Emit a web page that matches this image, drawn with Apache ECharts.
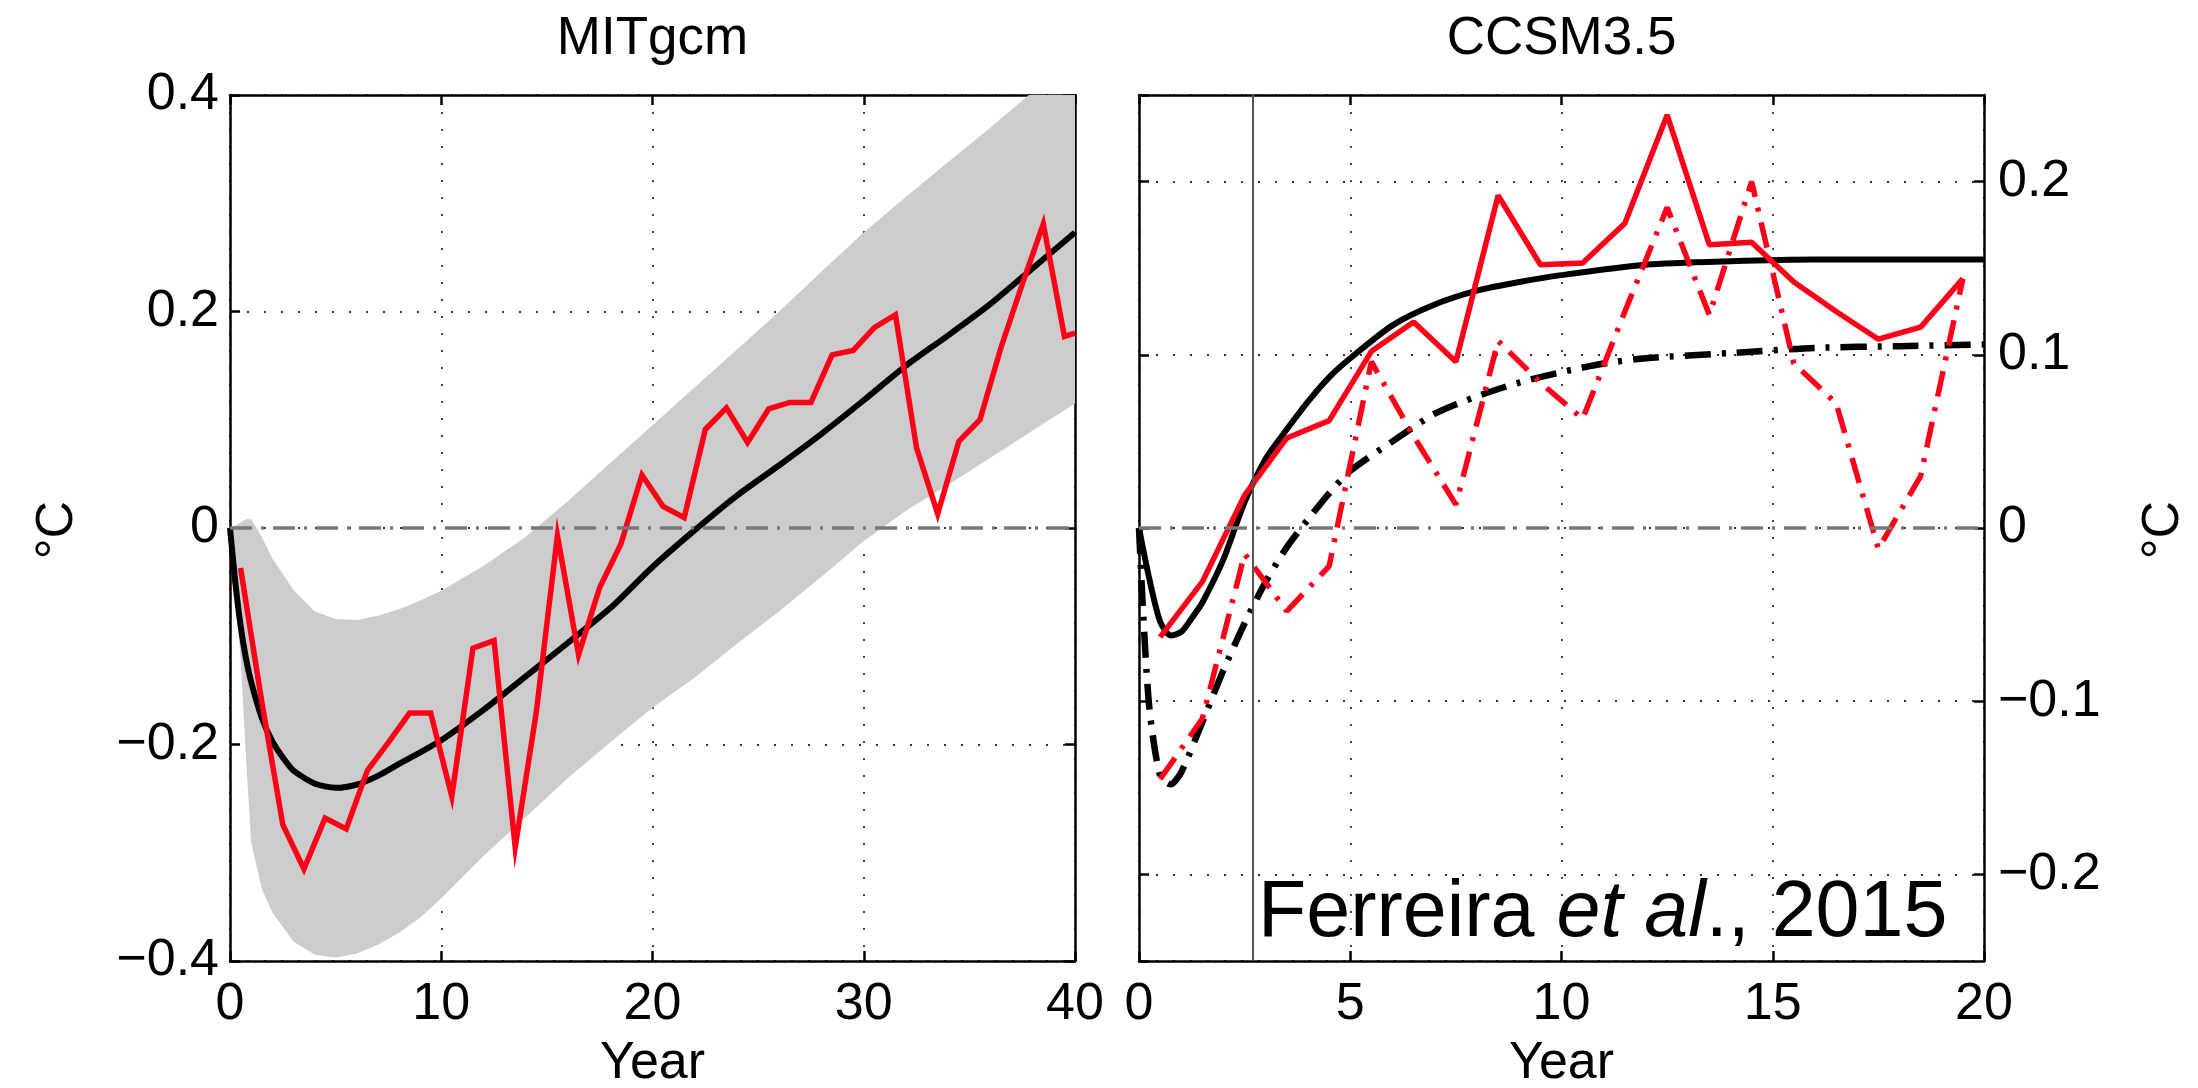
<!DOCTYPE html>
<html><head><meta charset="utf-8">
<script src="https://cdn.jsdelivr.net/npm/echarts@6/dist/echarts.min.js"></script>
<style>html,body{margin:0;padding:0;background:#fff}#c{width:2198px;height:1088px}</style>
</head><body><div id="c"></div>
<script>
// ---------------- MITgcm panel ----------------
const mitBandYears = [0, 0.25, 0.5, 0.75, 1, 1.5, 2, 3, 4, 5, 6, 7, 8, 9, 10, 12, 14, 16, 18, 20, 22, 24, 26, 28, 30, 32, 34, 36, 38, 40];
const mitBandUpper = [0, 0.002, 0.005, 0.008, 0.008, -0.008, -0.028, -0.057, -0.077, -0.084, -0.085, -0.081, -0.075, -0.067, -0.058, -0.035, -0.008, 0.025, 0.06, 0.095, 0.13, 0.165, 0.2, 0.237, 0.273, 0.306, 0.338, 0.37, 0.403, 0.436];
const mitBandLower = [0, -0.06, -0.12, -0.21, -0.29, -0.333, -0.355, -0.382, -0.394, -0.397, -0.393, -0.385, -0.374, -0.36, -0.342, -0.303, -0.267, -0.231, -0.198, -0.166, -0.138, -0.107, -0.077, -0.045, -0.012, 0.016, 0.04, 0.065, 0.09, 0.115];

const mitMeanYears = [0, 0.25, 0.5, 0.75, 1, 1.5, 2, 2.5, 3, 4, 5, 6, 7, 8, 10, 12, 14, 16, 18, 20, 22, 24, 26, 28, 30, 32, 34, 36, 38, 40];
const mitMean = [0, -0.05, -0.09, -0.12, -0.142, -0.175, -0.197, -0.212, -0.224, -0.236, -0.240, -0.237, -0.229, -0.218, -0.196, -0.168, -0.137, -0.106, -0.074, -0.036, -0.002, 0.03, 0.058, 0.087, 0.118, 0.150, 0.178, 0.207, 0.240, 0.273];

const mitRedYears = [0.5, 1.5, 2.5, 3.5, 4.5, 5.5, 6.5, 7.5, 8.5, 9.5, 10.5, 11.5, 12.5, 13.5, 14.5, 15.5, 16.5, 17.5, 18.5, 19.5, 20.5, 21.5, 22.5, 23.5, 24.5, 25.5, 26.5, 27.5, 28.5, 29.5, 30.5, 31.5, 32.5, 33.5, 34.5, 35.5, 36.5, 37.5, 38.5, 39.5, 40];
const mitRed = [-0.037, -0.16, -0.274, -0.315, -0.268, -0.278, -0.224, -0.198, -0.171, -0.171, -0.248, -0.111, -0.104, -0.295, -0.17, -0.007, -0.117, -0.055, -0.015, 0.049, 0.02, 0.0095, 0.091, 0.111, 0.079, 0.110, 0.116, 0.116, 0.160, 0.164, 0.185, 0.197, 0.074, 0.013, 0.080, 0.100, 0.167, 0.225, 0.281, 0.177, 0.180];

// ---------------- CCSM3.5 panel ----------------
const ccsmSolidYears = [0, 0.25, 0.5, 0.75, 1, 1.25, 1.5, 2, 2.5, 3, 3.5, 4, 4.5, 5, 6, 7, 8, 9, 10, 12, 14, 16, 18, 20];
const ccsmBlackSolid = [0, -0.03, -0.054, -0.062, -0.06, -0.052, -0.043, -0.018, 0.015, 0.040, 0.057, 0.073, 0.087, 0.098, 0.117, 0.129, 0.137, 0.142, 0.146, 0.152, 0.154, 0.155, 0.155, 0.155];

const ccsmDashYears = [0, 0.1, 0.25, 0.5, 0.75, 1, 1.5, 2, 2.5, 3, 3.5, 4, 4.5, 5, 6, 7, 8, 9, 10, 11, 12, 14, 16, 18, 20];
const ccsmBlackDash = [0, -0.05, -0.105, -0.143, -0.148, -0.141, -0.112, -0.082, -0.055, -0.031, -0.011, 0.005, 0.02, 0.033, 0.05, 0.066, 0.076, 0.084, 0.09, 0.095, 0.098, 0.101, 0.104, 0.105, 0.106];

const ccsmYears = [0.5, 1.5, 2.5, 3.5, 4.5, 5.5, 6.5, 7.5, 8.5, 9.5, 10.5, 11.5, 12.5, 13.5, 14.5, 15.5, 16.5, 17.5, 18.5, 19.5];
const ccsmRedSolid = [-0.063, -0.031, 0.019, 0.052, 0.062, 0.102, 0.119, 0.096, 0.192, 0.152, 0.153, 0.176, 0.2385, 0.1635, 0.165, 0.142, 0.125, 0.109, 0.116, 0.144];
const ccsmRedDash = [-0.145, -0.11, -0.015, -0.048, -0.022, 0.096, 0.053, 0.0135, 0.108, 0.084, 0.063, 0.125, 0.185, 0.123, 0.2, 0.095, 0.072, -0.012, 0.03, 0.144];

const ccsmMarkerYear = [2.69];

const panelTitles = ['MITgcm', 'CCSM3.5'];
const xAxisTitle = 'Year';
const yAxisTitle = '\u00B0C';
const citation = ['Ferreira ', 'et al', '., 2015'];

// ---------------- chart ----------------
const FONT = '"Liberation Sans", Arial, Helvetica, sans-serif';
const RED = '#ff0018';
const zip = (xs, ys) => xs.map((x, i) => [x, ys[i]]);

const fmtY = v => {
  if (Math.abs(v) < 1e-9) return '0';
  const s = Math.abs(v).toFixed(1);
  return (v < 0 ? '\u2212' : '') + s;
};

const axisLineStyle = { show: true, onZero: false, lineStyle: { color: '#000', width: 2.5 } };
const tickStyle = { show: true, inside: true, length: 10, lineStyle: { color: '#000', width: 2.5 } };
const gridDots = { show: true, lineStyle: { color: '#333', width: 1.8, type: [2, 15] } };
const labelStyle = { color: '#000', fontSize: 52, fontFamily: FONT };
const DASHDOT = [26, 11, 4, 11];
const ZERO_STYLE = { color: '#777', width: 3.5, type: [22, 9, 3, 9] };

function xAx(grid, max, interval, position, main) {
  return {
    type: 'value', gridIndex: grid, min: 0, max: max, interval: interval, position: position,
    axisLine: axisLineStyle, axisTick: tickStyle,
    axisLabel: main ? Object.assign({ show: true, margin: 18 }, labelStyle) : { show: false },
    splitLine: main ? gridDots : { show: false }
  };
}

// band drawn as one polygon through the axis scales (api.coord), clipped to the plot
function renderBand(params, api) {
  if (params.dataIndex !== 0) return null;
  const n = params.dataInsideLength;
  const up = [], lo = [];
  for (let i = 0; i < n; i++) {
    const x = api.value(0, i);
    up.push(api.coord([x, api.value(2, i)]));
    lo.push(api.coord([x, api.value(1, i)]));
  }
  const pts = up.concat(lo.reverse());
  const cs = params.coordSys;
  return {
    type: 'group',
    clipPath: { type: 'rect', shape: { x: cs.x, y: cs.y, width: cs.width, height: cs.height } },
    children: [{ type: 'polygon', shape: { points: pts }, style: { fill: '#cccccc', stroke: null } }]
  };
}

const option = {
  animation: false,
  backgroundColor: '#fff',
  grid: [
    { left: 230, top: 95, width: 845, height: 866, show: false },
    { left: 1139, top: 95, width: 845, height: 866, show: false }
  ],
  xAxis: [
    xAx(0, 40, 10, 'bottom', true),
    xAx(0, 40, 10, 'top', false),
    xAx(1, 20, 5, 'bottom', true),
    xAx(1, 20, 5, 'top', false)
  ],
  yAxis: [
    { type: 'value', gridIndex: 0, min: -0.4, max: 0.4, interval: 0.2, position: 'left',
      axisLine: axisLineStyle, axisTick: tickStyle,
      axisLabel: Object.assign({ margin: 11, formatter: fmtY }, labelStyle), splitLine: gridDots },
    { type: 'value', gridIndex: 0, min: -0.4, max: 0.4, interval: 0.2, position: 'right',
      axisLine: axisLineStyle, axisTick: tickStyle, axisLabel: { show: false }, splitLine: { show: false } },
    { type: 'value', gridIndex: 1, min: -0.25, max: 0.25, splitNumber: 5, position: 'right',
      axisLine: axisLineStyle, axisTick: tickStyle,
      axisLabel: Object.assign({ margin: 14, formatter: fmtY, showMinLabel: false, showMaxLabel: false }, labelStyle),
      splitLine: gridDots },
    { type: 'value', gridIndex: 1, min: -0.25, max: 0.25, splitNumber: 5, position: 'left',
      axisLine: axisLineStyle, axisTick: tickStyle, axisLabel: { show: false }, splitLine: { show: false } }
  ],
  series: [
    { type: 'custom', name: 'band', xAxisIndex: 0, yAxisIndex: 0, silent: true, clip: true, z: 1,
      data: mitBandYears.map((x, i) => [x, mitBandLower[i], mitBandUpper[i]]),
      encode: { x: 0, y: [1, 2] },
      renderItem: renderBand },
    { type: 'line', name: 'mitMean', xAxisIndex: 0, yAxisIndex: 0, data: zip(mitMeanYears, mitMean),
      symbol: 'none', smooth: 0.25, lineStyle: { color: '#000', width: 6 }, z: 3,
      markLine: { silent: true, symbol: 'none', label: { show: false }, lineStyle: ZERO_STYLE, data: [{ yAxis: 0 }] } },
    { type: 'line', name: 'mitRed', xAxisIndex: 0, yAxisIndex: 0, data: zip(mitRedYears, mitRed),
      symbol: 'none', lineStyle: { color: RED, width: 5.5, join: 'miter' }, z: 4 },

    { type: 'line', name: 'ccsmBlackDash', xAxisIndex: 2, yAxisIndex: 2, data: zip(ccsmDashYears, ccsmBlackDash),
      symbol: 'none', smooth: 0.25, lineStyle: { color: '#000', width: 6.5, type: DASHDOT }, z: 3,
      markLine: { silent: true, symbol: 'none', label: { show: false },
        data: [
          { yAxis: 0, lineStyle: ZERO_STYLE },
          { xAxis: ccsmMarkerYear[0], lineStyle: { color: '#555', width: 2, type: 'solid' } }
        ] } },
    { type: 'line', name: 'ccsmBlackSolid', xAxisIndex: 2, yAxisIndex: 2, data: zip(ccsmSolidYears, ccsmBlackSolid),
      symbol: 'none', smooth: 0.25, lineStyle: { color: '#000', width: 6 }, z: 3 },
    { type: 'line', name: 'ccsmRedDash', xAxisIndex: 2, yAxisIndex: 2, data: zip(ccsmYears, ccsmRedDash),
      symbol: 'none', lineStyle: { color: RED, width: 5.5, type: DASHDOT }, z: 4 },
    { type: 'line', name: 'ccsmRedSolid', xAxisIndex: 2, yAxisIndex: 2, data: zip(ccsmYears, ccsmRedSolid),
      symbol: 'none', lineStyle: { color: RED, width: 5.5 }, z: 4 }
  ],
  graphic: [
    { type: 'text', x: 652.5, y: 39, style: { text: panelTitles[0], font: '53px ' + FONT, fill: '#000', align: 'center', verticalAlign: 'middle' } },
    { type: 'text', x: 1561.5, y: 39, style: { text: panelTitles[1], font: '53px ' + FONT, fill: '#000', align: 'center', verticalAlign: 'middle' } },
    { type: 'text', x: 652.5, y: 1064, style: { text: xAxisTitle, font: '52px ' + FONT, fill: '#000', align: 'center', verticalAlign: 'middle' } },
    { type: 'text', x: 1561.5, y: 1064, style: { text: xAxisTitle, font: '52px ' + FONT, fill: '#000', align: 'center', verticalAlign: 'middle' } },
    { type: 'text', x: 58, y: 530, rotation: Math.PI / 2, style: { text: yAxisTitle, font: '52px ' + FONT, fill: '#000', align: 'center', verticalAlign: 'middle' } },
    { type: 'text', x: 2164, y: 530, rotation: Math.PI / 2, style: { text: yAxisTitle, font: '52px ' + FONT, fill: '#000', align: 'center', verticalAlign: 'middle' } },
    { type: 'text', x: 1258, y: 914, z: 100, style: {
        text: '{a|' + citation[0] + '}{b|' + citation[1] + '}{a|' + citation[2] + '}',
        align: 'left', verticalAlign: 'middle', fill: '#000',
        rich: {
          a: { fontSize: 79, fontFamily: FONT, fill: '#000', color: '#000' },
          b: { fontSize: 79, fontFamily: FONT, fontStyle: 'italic', fill: '#000', color: '#000' }
        } } }
  ]
};

const chart = echarts.init(document.getElementById('c'), null, { renderer: 'canvas', width: 2198, height: 1088 });
chart.setOption(option);
</script>
</body></html>
